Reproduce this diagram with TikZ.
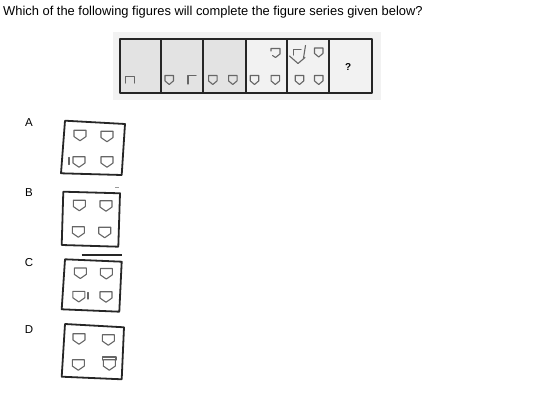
\documentclass[tikz,border=0pt]{standalone}
\usepackage{fontspec}
\setmainfont{Liberation Sans}
\begin{document}
\begin{tikzpicture}[x=1pt,y=-1pt,
    frame/.style={draw=black!85,line width=1.8pt,line join=round},
    figline/.style={draw=black!60,line width=1.1pt,line join=round,line cap=round},
    strip/.style={xscale=8.5,yscale=9},
    opt/.style={xscale=12,yscale=10.5},
    label/.style={font=\fontsize{11.5}{13}\selectfont},
    shield/.pic={\draw [figline] (-0.5,-0.5) -- (0.5,-0.5) -- (0.5,0.1) -- (0,0.5) -- (-0.5,0.1) -- cycle;}]
    \useasboundingbox (0,0) rectangle (549,403);
    % question
    \node [anchor=west,inner sep=0,font=\fontsize{12.9}{15}\selectfont] (title) at (3,12) {Which of the following figures will complete the figure series given below?};
    % the series
    \fill [black!5] (113,32) rectangle (381,100);
    \fill [black!11] (120,39) rectangle (245.7,93);
    \draw [frame] (120,39) rectangle (372,93);
    \foreach \x in {160.7,203.3,245.7,287.3,329.3}
        \draw [frame] (\x,39) -- (\x,93);
    \draw [figline] (125.5,83) -- (125.5,76.5) -- (134.5,76.5) -- (134.5,83);
    \pic [strip] at (169.2,80) {shield};
    \draw [figline] (188,84) -- (188,75.5) -- (196,75.5);
    \pic [strip] at (212.8,80) {shield};
    \pic [strip] at (232.8,80) {shield};
    \pic [strip] at (254.5,80) {shield};
    \pic [strip] at (275.3,80) {shield};
    \draw [figline] (271,51) -- (271,48.5) -- (280,48.5) -- (280,54) -- (275.5,57.5) -- (272.5,55.5);
    \draw [figline] (293.5,55) -- (293.5,49.5) -- (301,49.5);
    \draw [figline] (289.5,56) -- (298,63.5) -- (305,57.5);
    \draw [figline] (305.5,45.5) -- (303.5,58);
    \pic [strip] at (318.7,52.5) {shield};
    \pic [strip] at (299.5,80) {shield};
    \pic [strip] at (318.7,80) {shield};
    \node [inner sep=0,font=\bfseries\fontsize{10}{11}\selectfont] (ask) at (348.3,66.7) {?};
    % answer figures
    \node [label] (labA) at (29,123) {A};
    \node [label] (labB) at (29,193) {B};
    \node [label] (labC) at (29,263) {C};
    \node [label] (labD) at (29,330) {D};
    % A
    \draw [frame] (65,120.7) -- (125,124) -- (121.7,175) -- (61,173.3) -- cycle;
    \pic [opt] at (80,135.5) {shield};
    \pic [opt] at (107,136.5) {shield};
    \pic [opt] at (79,162) {shield};
    \pic [opt] at (107,162) {shield};
    \draw [figline] (69,157.5) -- (69,164.5);
    % B
    \draw [frame] (63.3,191.7) -- (120,193.3) -- (118.3,246.7) -- (61.7,245) -- cycle;
    \draw [black!40,line width=0.8pt] (115,187) -- (119,187);
    \pic [opt] at (79.3,205.5) {shield};
    \pic [opt] at (106,206) {shield};
    \pic [opt] at (78.3,232) {shield};
    \pic [opt] at (104.7,232.5) {shield};
    % C
    \draw [frame] (65,259.3) -- (121.7,261.7) -- (119.3,311.7) -- (61.7,309.3) -- cycle;
    \draw [frame] (81.7,255.3) -- (121.7,255.3);
    \pic [opt] at (80.3,273.3) {shield};
    \pic [opt] at (106.3,273.8) {shield};
    \pic [opt] at (78.8,296.7) {shield};
    \pic [opt] at (106,297) {shield};
    \draw [figline] (88,292.5) -- (88,299);
    % D
    \draw [frame] (65,324) -- (124,327.3) -- (121.7,379.3) -- (61.7,376.7) -- cycle;
    \pic [opt] at (79,339) {shield};
    \pic [opt] at (108.3,340) {shield};
    \pic [opt] at (78.3,365) {shield};
    \pic [opt] at (109.3,365) {shield};
    \draw [figline] (102.5,360) -- (102.5,357) -- (116,357) -- (116,360);
\end{tikzpicture}
\end{document}
